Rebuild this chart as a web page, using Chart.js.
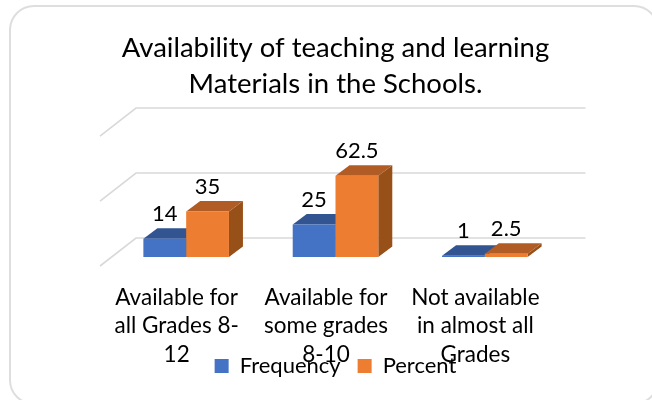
<!DOCTYPE html>
<html><head><meta charset="utf-8">
<style>
html,body{margin:0;padding:0;background:#fff;width:652px;height:400px;overflow:hidden}
#card{position:absolute;left:9px;top:5px;width:650px;height:400px;border:2px solid #dedede;border-radius:25px;box-sizing:border-box}
#wrap{position:absolute;left:0;top:0;width:652px;height:400px}
</style>
<script src="https://cdn.jsdelivr.net/npm/chart.js@4"></script>
</head><body>
<div id="card"></div>
<div id="wrap"><canvas id="c" width="652" height="400"></canvas></div>
<script>
const categories = [
  ["Available for","all Grades 8-","12"],
  ["Available for","some grades","8-10"],
  ["Not available","in almost all","Grades"]
];
const frequency = [14, 25, 1];
const percent = [35, 62.5, 2.5];
const titleLines = ["Availability of teaching and learning","Materials in the Schools."];
const FONT = "Lato, 'Open Sans', sans-serif";

const shade = {
  Frequency: {top:"#325592", side:"#2a4a80"},
  Percent: {top:"#B05C24", side:"#985019"}
};
const depth = {barDx:14, barDy:10.5, backDx:24.5, backDy:19, frontDx:-11.5, frontDy:9};

const threeD = {
  id:"threeD",
  beforeDraw(chart){
    chart.scales.x.bottom = chart.height;
  },
  beforeDatasetsDraw(chart){
    const ctx = chart.ctx, y = chart.scales.y, a = chart.chartArea;
    ctx.save();
    ctx.strokeStyle = "#d9d9d9"; ctx.lineWidth = 1.6;
    y.ticks.forEach(t=>{
      const py = y.getPixelForValue(t.value);
      ctx.beginPath();
      ctx.moveTo(a.left+depth.frontDx, py+depth.frontDy);
      ctx.lineTo(a.left+depth.backDx, py-depth.backDy);
      ctx.lineTo(a.right+depth.backDx+1.5, py-depth.backDy);
      ctx.stroke();
    });
    chart.data.datasets.forEach((ds,i)=>{
      const col = shade[ds.label];
      chart.getDatasetMeta(i).data.forEach(b=>{
        const l=b.x-b.width/2, r=b.x+b.width/2, t=b.y, bot=b.base, dx=depth.barDx, dy=depth.barDy;
        ctx.fillStyle = col.side;
        ctx.beginPath();
        ctx.moveTo(r,t);ctx.lineTo(r+dx,t-dy);ctx.lineTo(r+dx,bot-dy);ctx.lineTo(r,bot);ctx.closePath();ctx.fill();
        ctx.fillStyle = col.top;
        ctx.beginPath();
        ctx.moveTo(l,t);ctx.lineTo(l+dx,t-dy);ctx.lineTo(r+dx,t-dy);ctx.lineTo(r,t);ctx.closePath();ctx.fill();
      });
    });
    ctx.restore();
  },
  afterDatasetsDraw(chart){
    const ctx = chart.ctx;
    ctx.save();
    ctx.fillStyle="#000"; ctx.font="22px "+FONT; ctx.textAlign="center"; ctx.textBaseline="middle";
    chart.data.datasets.forEach((ds,i)=>{
      chart.getDatasetMeta(i).data.forEach((b,j)=>{
        ctx.fillText(String(ds.data[j]), b.x, b.y-25);
      });
    });
    ctx.restore();
  }
};

new Chart(document.getElementById("c"),{
  type:"bar",
  data:{labels:categories,datasets:[
    {label:"Frequency",data:frequency,backgroundColor:"#4472C4"},
    {label:"Percent",data:percent,backgroundColor:"#ED7D31"}
  ]},
  options:{
    responsive:false,animation:false,
    layout:{padding:{left:111.5,right:92.5,top:0,bottom:13}},
    datasets:{bar:{categoryPercentage:0.573,barPercentage:1}},
    scales:{
      x:{grid:{display:false},border:{display:false},
         ticks:{color:"#000",font:{family:FONT,size:22.5,lineHeight:1.28},padding:18,labelOffset:-9.5,maxRotation:0,autoSkip:false},
         afterFit(s){s.height=81;}},
      y:{display:false,min:0,max:100,ticks:{stepSize:50}}
    },
    plugins:{
      title:{display:true,text:titleLines,color:"#000",fullSize:false,font:{family:FONT,size:27.5,weight:"normal",lineHeight:1.31},padding:{top:30,bottom:25}},
      legend:{position:"bottom",fullSize:false,labels:{color:"#000",boxWidth:14,boxHeight:14,padding:17,font:{family:FONT,size:22}}},
      tooltip:{enabled:false}
    }
  },
  plugins:[threeD]
});
</script>
</body></html>
